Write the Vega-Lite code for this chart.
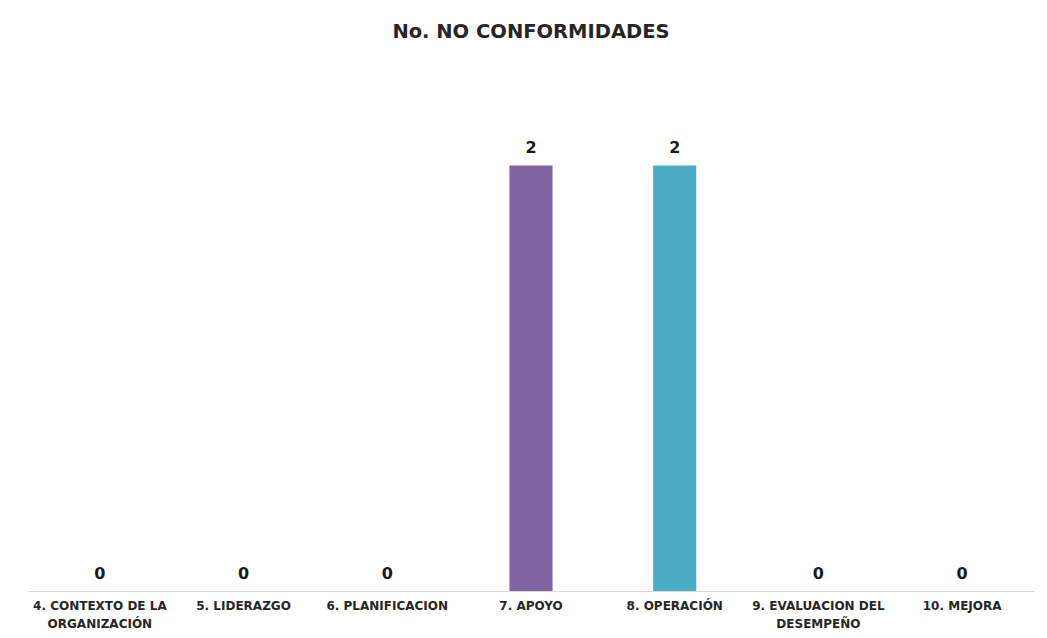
{
  "$schema": "https://vega.github.io/schema/vega-lite/v6.json",
  "width": 1006,
  "height": 532,
  "autosize": "none",
  "padding": {"left": 28, "top": 59, "right": 13, "bottom": 47},
  "background": "white",
  "title": {
    "text": "No. NO CONFORMIDADES",
    "font": "DejaVu Sans",
    "fontSize": 19.5,
    "fontWeight": "bold",
    "color": "#262626",
    "anchor": "middle",
    "offset": 17
  },
  "data": {
    "values": [
      {"categoria": "4. CONTEXTO DE LA ORGANIZACIÓN", "valor": 0},
      {"categoria": "5. LIDERAZGO", "valor": 0},
      {"categoria": "6. PLANIFICACION", "valor": 0},
      {"categoria": "7. APOYO", "valor": 2},
      {"categoria": "8. OPERACIÓN", "valor": 2},
      {"categoria": "9. EVALUACION DEL DESEMPEÑO", "valor": 0},
      {"categoria": "10. MEJORA", "valor": 0}
    ]
  },
  "config": {"view": {"stroke": null}},
  "encoding": {
    "x": {
      "field": "categoria",
      "type": "nominal",
      "sort": null,
      "scale": {"paddingInner": 0.7, "paddingOuter": 0.35},
      "axis": {
        "title": null,
        "labelAngle": 0,
        "ticks": false,
        "domainColor": "#d9d9d9",
        "domainWidth": 1,
        "labelFont": "DejaVu Sans",
        "labelFontSize": 12,
        "labelFontWeight": "bold",
        "labelColor": "#262626",
        "labelPadding": 9,
        "labelLineHeight": 18,
        "labelBaseline": "top",
        "labelLimit": 0,
        "labelExpr": "datum.value == '4. CONTEXTO DE LA ORGANIZACIÓN' ? ['4. CONTEXTO DE LA', 'ORGANIZACIÓN'] : (datum.value == '9. EVALUACION DEL DESEMPEÑO' ? ['9. EVALUACION DEL', 'DESEMPEÑO'] : datum.value)"
      }
    },
    "y": {
      "field": "valor",
      "type": "quantitative",
      "scale": {"domain": [0, 2.5], "nice": false},
      "axis": null
    }
  },
  "layer": [
    {
      "mark": {"type": "bar"},
      "encoding": {
        "color": {
          "field": "categoria",
          "type": "nominal",
          "sort": null,
          "scale": {
            "domain": ["4. CONTEXTO DE LA ORGANIZACIÓN", "5. LIDERAZGO", "6. PLANIFICACION", "7. APOYO", "8. OPERACIÓN", "9. EVALUACION DEL DESEMPEÑO", "10. MEJORA"],
            "range": ["#4f81bd", "#c0504d", "#9bbb59", "#8064a2", "#4bacc6", "#f79646", "#2c4d75"]
          },
          "legend": null
        }
      }
    },
    {
      "mark": {
        "type": "text",
        "baseline": "bottom",
        "dy": -9,
        "font": "DejaVu Sans",
        "fontSize": 16,
        "fontWeight": "bold",
        "color": "#1a1a1a"
      },
      "encoding": {
        "text": {"field": "valor", "type": "quantitative"}
      }
    }
  ]
}
